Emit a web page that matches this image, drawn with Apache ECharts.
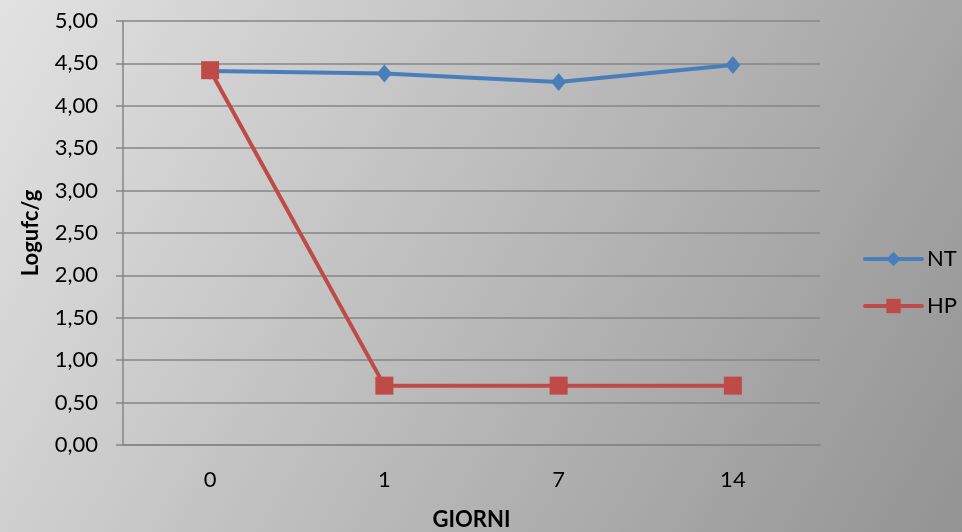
<!DOCTYPE html>
<html>
<head>
<meta charset="utf-8">
<script src="https://cdn.jsdelivr.net/npm/echarts@6/dist/echarts.min.js"></script>
<style>
  html, body { margin: 0; padding: 0; }
  #main { width: 962px; height: 532px; }
</style>
</head>
<body>
<div id="main"></div>
<script>
const giorni = ['0', '1', '7', '14']
const ntValues = [4.41, 4.38, 4.28, 4.48]
const hpValues = [4.42, 0.70, 0.70, 0.70]
const yTicks = { min: 0, max: 5, interval: 0.5 }

const myChart = echarts.init(document.getElementById('main'))
const option = {
  backgroundColor: new echarts.graphic.LinearGradient(0, 0, 1, 1, [
    { offset: 0, color: '#e2e2e2' },
    { offset: 1, color: '#939393' }
  ]),
  textStyle: { fontFamily: 'Lato' },
  legend: {
    orient: 'vertical',
    left: 858,
    top: 243,
    itemGap: 25,
    itemWidth: 57,
    itemHeight: 18,
    textStyle: { color: '#000', fontSize: 22 },
    lineStyle: { width: 4, cap: 'round' },
    data: ['NT', 'HP']
  },
  grid: { left: 123, right: 142, top: 21, bottom: 87, outerBoundsMode: 'none' },
  xAxis: {
    type: 'category',
    data: giorni,
    boundaryGap: true,
    name: 'GIORNI',
    nameLocation: 'middle',
    nameGap: 64,
    nameTextStyle: { fontWeight: 'bold', fontSize: 22, color: '#000' },
    axisLine: { lineStyle: { color: '#868686', width: 1.5 } },
    axisTick: { show: false },
    axisLabel: { color: '#000', fontSize: 22, margin: 24 }
  },
  yAxis: {
    type: 'value',
    min: yTicks.min,
    max: yTicks.max,
    interval: yTicks.interval,
    name: 'Logufc/g',
    nameLocation: 'middle',
    nameGap: 81,
    nameTextStyle: { fontWeight: 'bold', fontSize: 22, color: '#000' },
    axisLine: { show: true, lineStyle: { color: '#868686', width: 1.5 } },
    axisTick: { show: true, length: 7, lineStyle: { color: '#868686', width: 1.5 } },
    axisLabel: {
      color: '#000',
      fontSize: 22,
      margin: 25,
      formatter: v => v.toFixed(2).replace('.', ',')
    },
    splitLine: { lineStyle: { color: '#868686', width: 1.5 } }
  },
  series: [
    {
      name: 'NT',
      type: 'line',
      data: ntValues,
      color: '#4a7ebb',
      symbol: 'diamond',
      symbolSize: [15, 18],
      lineStyle: { width: 4 }
    },
    {
      name: 'HP',
      type: 'line',
      data: hpValues,
      color: '#be4b48',
      symbol: 'rect',
      symbolSize: 18,
      lineStyle: { width: 4 }
    }
  ]
}
myChart.setOption(option, true)
window.addEventListener('resize', () => {
  myChart.resize()
})
</script>
</body>
</html>
